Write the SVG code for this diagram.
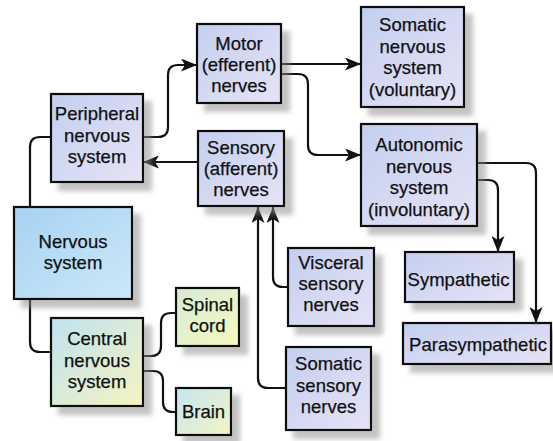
<svg xmlns="http://www.w3.org/2000/svg" width="553" height="441" viewBox="0 0 553 441">
<style>
.box{stroke:#111;stroke-width:2.2;filter:url(#sh)}
.lav{fill:url(#gLav)}
.t{font-family:"Liberation Sans",Arial,sans-serif;font-size:18.5px;fill:#111;stroke:#111;stroke-width:0.25;text-anchor:middle}
.c{fill:none;stroke:#111;stroke-width:2.2;stroke-linejoin:round}
.a{marker-end:url(#arr)}
</style>
<defs>
<filter id="sh" x="-20%" y="-20%" width="150%" height="150%">
<feGaussianBlur in="SourceAlpha" stdDeviation="2.5"/>
<feOffset dx="8" dy="8" result="b"/>
<feFlood flood-color="#888" flood-opacity="0.5"/>
<feComposite in2="b" operator="in"/>
<feMerge><feMergeNode/><feMergeNode in="SourceGraphic"/></feMerge>
</filter>
<linearGradient id="gLav" x1="0" y1="0" x2="1" y2="1">
<stop offset="0" stop-color="#c3cff0"/><stop offset="1" stop-color="#e6e3f5"/>
</linearGradient>
<linearGradient id="gNerv" x1="0" y1="0" x2="1" y2="1">
<stop offset="0" stop-color="#a6d2f3"/><stop offset="1" stop-color="#cde8f8"/>
</linearGradient>
<linearGradient id="gCns" x1="0" y1="0" x2="1" y2="1">
<stop offset="0" stop-color="#bfe2f2"/><stop offset="1" stop-color="#f6f4bf"/>
</linearGradient>
<linearGradient id="gSp" x1="0" y1="0" x2="1" y2="1">
<stop offset="0" stop-color="#d4ecd6"/><stop offset="1" stop-color="#f8f7bd"/>
</linearGradient>
<linearGradient id="gBr" x1="0" y1="0" x2="1" y2="1">
<stop offset="0" stop-color="#c6e6f2"/><stop offset="1" stop-color="#f3f4c4"/>
</linearGradient>
<marker id="arr" markerUnits="userSpaceOnUse" markerWidth="17" markerHeight="13" refX="16" refY="6.5" orient="auto">
<path d="M0,0 L16,6.5 L0,13 L4,6.5 z" fill="#111"/>
</marker>
</defs>
<rect width="553" height="441" fill="#fff"/>

<g id="connectors">
<path class="c" d="M30,207 V147 Q30,137 40,137 H51"/>
<path class="c" d="M30,299 V342 Q30,352 40,352 H51"/>
<path class="c a" d="M143,137 H158 Q168,137 168,127 V75 Q168,65 178,65 H197"/>
<path class="c a" d="M198,162 H143"/>
<path class="c a" d="M281,64 H361"/>
<path class="c a" d="M281,74 H298 Q308,74 308,84 V145 Q308,155 318,155 H361"/>
<path class="c a" d="M477,163 H526 Q536,163 536,173 V323"/>
<path class="c a" d="M477,180 H488 Q498,180 498,190 V252"/>
<path class="c" d="M143,356 H151 Q161,356 161,346 V323 Q161,313 171,313 H176"/>
<path class="c" d="M143,371 H153 Q163,371 163,381 V402 Q163,412 173,412 H176"/>
<path class="c a" d="M288,287 H283 Q273,287 273,277 V207"/>
<path class="c a" d="M286,388 H268 Q258,388 258,378 V207"/>
</g>

<g id="nervous-system">
<rect class="box" x="14" y="207" width="118" height="92" fill="url(#gNerv)"/>
<text class="t" x="73" y="248">Nervous</text>
<text class="t" x="73" y="269">system</text>
</g>
<g id="peripheral">
<rect class="box lav" x="51" y="94" width="92" height="88"/>
<text class="t" x="97" y="120">Peripheral</text>
<text class="t" x="97" y="141.5">nervous</text>
<text class="t" x="97" y="163">system</text>
</g>
<g id="central">
<rect class="box" x="51" y="318" width="92" height="88" fill="url(#gCns)"/>
<text class="t" x="97" y="345">Central</text>
<text class="t" x="97" y="366.5">nervous</text>
<text class="t" x="97" y="388">system</text>
</g>
<g id="spinal-cord">
<rect class="box" x="176" y="288" width="63" height="58" fill="url(#gSp)"/>
<text class="t" x="207.5" y="311">Spinal</text>
<text class="t" x="207.5" y="332">cord</text>
</g>
<g id="brain">
<rect class="box" x="176" y="388" width="55" height="47" fill="url(#gBr)"/>
<text class="t" x="203.5" y="418">Brain</text>
</g>
<g id="motor">
<rect class="box lav" x="197" y="24" width="84" height="79"/>
<text class="t" x="239" y="50">Motor</text>
<text class="t" x="239" y="71">(efferent)</text>
<text class="t" x="239" y="91.5">nerves</text>
</g>
<g id="sensory">
<rect class="box lav" x="198" y="131" width="86" height="75"/>
<text class="t" x="241" y="153.5">Sensory</text>
<text class="t" x="241" y="174.5">(afferent)</text>
<text class="t" x="241" y="195.5">nerves</text>
</g>
<g id="somatic-ns">
<rect class="box lav" x="361" y="7" width="103" height="100"/>
<text class="t" x="412.5" y="31">Somatic</text>
<text class="t" x="412.5" y="52.5">nervous</text>
<text class="t" x="412.5" y="74">system</text>
<text class="t" x="412.5" y="95.5">(voluntary)</text>
</g>
<g id="autonomic">
<rect class="box lav" x="361" y="124" width="116" height="102"/>
<text class="t" x="419" y="151">Autonomic</text>
<text class="t" x="419" y="172.5">nervous</text>
<text class="t" x="419" y="194">system</text>
<text class="t" x="419" y="215.5">(involuntary)</text>
</g>
<g id="visceral">
<rect class="box lav" x="288" y="248" width="86" height="78"/>
<text class="t" x="331" y="269">Visceral</text>
<text class="t" x="331" y="290">sensory</text>
<text class="t" x="331" y="311">nerves</text>
</g>
<g id="somatic-sensory">
<rect class="box lav" x="286" y="347" width="85" height="83"/>
<text class="t" x="328.5" y="370">Somatic</text>
<text class="t" x="328.5" y="391.5">sensory</text>
<text class="t" x="328.5" y="413">nerves</text>
</g>
<g id="sympathetic">
<rect class="box lav" x="405" y="252" width="109" height="50"/>
<text class="t" x="458.5" y="285.5">Sympathetic</text>
</g>
<g id="parasympathetic">
<rect class="box lav" x="403" y="323" width="148" height="41"/>
<text class="t" x="478" y="351">Parasympathetic</text>
</g>
</svg>
